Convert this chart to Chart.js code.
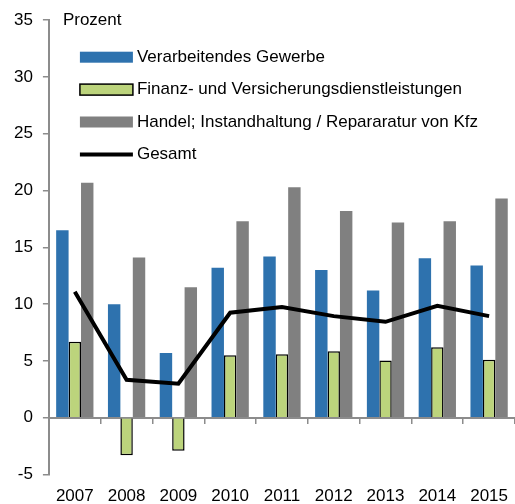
<!DOCTYPE html>
<html>
<head>
<meta charset="utf-8">
<script src="https://cdn.jsdelivr.net/npm/chart.js@4.4.0/dist/chart.umd.min.js"></script>
<style>
  body { margin: 0; background: #fff; }
</style>
</head>
<body>
<canvas id="chart" width="515" height="504"></canvas>
<script>
const years = ['2007', '2008', '2009', '2010', '2011', '2012', '2013', '2014', '2015'];
const verarbeitendes = [16.5, 10.0, 5.7, 13.2, 14.2, 13.0, 11.2, 14.05, 13.4];
const finanz = [6.7, -3.3, -2.9, 5.5, 5.6, 5.85, 5.05, 6.2, 5.1];
const handel = [20.7, 14.1, 11.5, 17.3, 20.3, 18.2, 17.2, 17.3, 19.3];
const gesamt = [11.1, 3.35, 3.0, 9.25, 9.75, 8.95, 8.45, 9.85, 8.95];

const FONT = '"Liberation Sans", Arial, sans-serif';
const AXIS_GREY = '#8c8c8c';

// legend sits inside the plot, plus the "Prozent" unit label
const insideLegend = {
  id: 'insideLegend',
  afterDraw(chart) {
    const { ctx, chartArea } = chart;
    ctx.save();
    ctx.font = '17px ' + FONT;
    ctx.textBaseline = 'middle';
    ctx.fillStyle = '#000';
    ctx.fillText('Prozent', chartArea.left + 14, chartArea.top);
    chart.data.datasets.forEach((ds, i) => {
      const x = chartArea.left + 31;
      const y = chartArea.top + 37 + i * 32.4;
      if (ds.type === 'line') {
        ctx.strokeStyle = ds.borderColor;
        ctx.lineWidth = 4;
        ctx.beginPath();
        ctx.moveTo(x, y);
        ctx.lineTo(x + 53, y);
        ctx.stroke();
      } else {
        ctx.fillStyle = ds.backgroundColor;
        ctx.fillRect(x, y - 5.5, 53, 11);
        if (ds.borderWidth) {
          ctx.lineWidth = 1.5;
          ctx.strokeStyle = ds.borderColor;
          ctx.strokeRect(x, y - 5.5, 53, 11);
        }
      }
      ctx.fillStyle = '#000';
      ctx.fillText(ds.label, x + 57, y);
    });
    ctx.restore();
  }
};

const ctx = document.getElementById('chart').getContext('2d');

new Chart(ctx, {
  data: {
    labels: years,
    datasets: [
      {
        type: 'bar',
        label: 'Verarbeitendes Gewerbe',
        data: verarbeitendes,
        backgroundColor: '#2E72AE',
        borderWidth: 0,
        order: 1
      },
      {
        type: 'bar',
        label: 'Finanz- und Versicherungsdienstleistungen',
        data: finanz,
        backgroundColor: '#BCD47C',
        borderColor: '#000',
        borderWidth: 1.5,
        order: 1
      },
      {
        type: 'bar',
        label: 'Handel; Instandhaltung / Repararatur von Kfz',
        data: handel,
        backgroundColor: '#808080',
        borderWidth: 0,
        order: 1
      },
      {
        type: 'line',
        label: 'Gesamt',
        data: gesamt,
        borderColor: '#000',
        backgroundColor: '#000',
        borderWidth: 4,
        pointRadius: 0,
        tension: 0,
        order: 0
      }
    ]
  },
  options: {
    responsive: false,
    animation: false,
    layout: {
      padding: { left: 4, top: 20, right: -6, bottom: -7 }
    },
    datasets: {
      bar: {
        categoryPercentage: 0.72,
        barPercentage: 1
      }
    },
    plugins: {
      legend: { display: false },
      tooltip: { enabled: false }
    },
    scales: {
      x: {
        type: 'category',
        offset: true,
        grid: { display: false },
        border: { display: false },
        ticks: {
          color: '#000',
          font: { family: FONT, size: 17 },
          padding: 4,
          maxRotation: 0
        }
      },
      x2: {
        type: 'category',
        labels: years,
        position: { y: 0 },
        offset: true,
        afterFit(scale) { scale.height = 0; },
        grid: {
          offset: true,
          drawOnChartArea: false,
          tickLength: 5,
          color: AXIS_GREY,
          lineWidth: 1.5
        },
        border: { color: AXIS_GREY, width: 2 },
        ticks: { display: false }
      },
      y: {
        min: -5,
        max: 35,
        ticks: {
          stepSize: 5,
          color: '#000',
          font: { family: FONT, size: 17 },
          padding: 10
        },
        grid: {
          drawOnChartArea: false,
          tickLength: 6,
          color: AXIS_GREY,
          lineWidth: 1.5
        },
        border: { color: AXIS_GREY, width: 2 }
      }
    }
  },
  plugins: [insideLegend]
});
</script>
</body>
</html>
